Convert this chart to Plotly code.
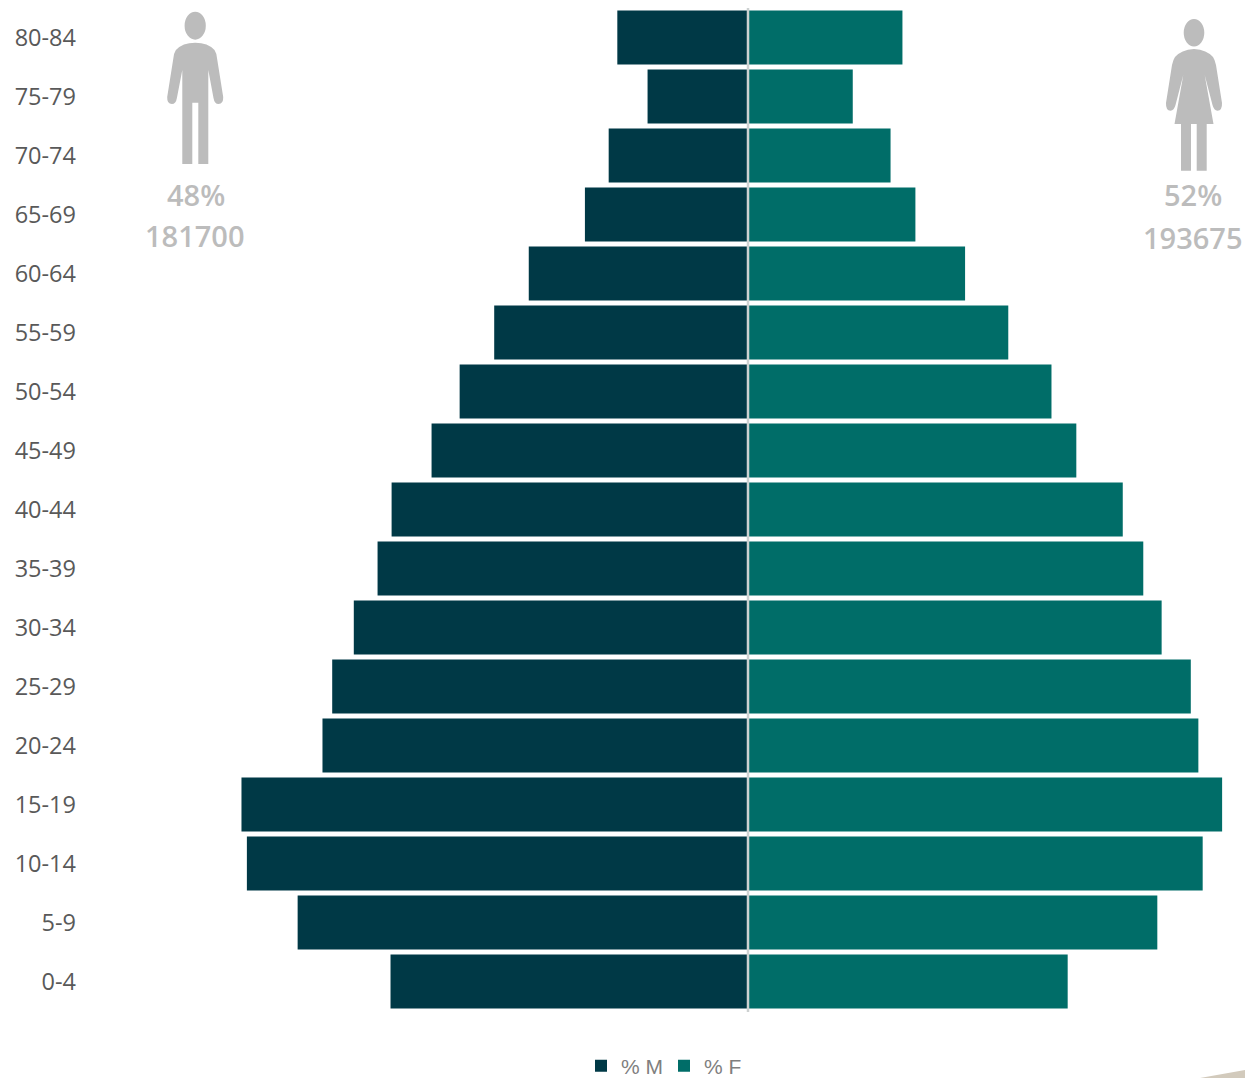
import plotly.graph_objects as go

ages = ["0-4","5-9","10-14","15-19","20-24","25-29","30-34","35-39","40-44","45-49",
        "50-54","55-59","60-64","65-69","70-74","75-79","80-84"]
male_pct = [3.31,4.17,4.64,4.69,3.94,3.85,3.65,3.43,3.30,2.93,2.67,2.35,2.03,1.51,1.29,0.93,1.21]
female_pct = [2.96,3.79,4.21,4.39,4.17,4.10,3.83,3.66,3.47,3.04,2.81,2.41,2.01,1.55,1.32,0.97,1.43]

MALE_COLOR = "#003946"
FEMALE_COLOR = "#006D68"
ICON = "#BCBCBC"
W, H = 1245, 1092
L, R, T, B = 77, 1236, 8, 1011
CENTER, SCALE = 748, 108.0

def px(x): return (x - L) / (R - L)
def py(y): return 1 - (y - T) / (B - T)
def path(cmds):
    out = []
    for c in cmds:
        if isinstance(c, str):
            out.append(c)
        else:
            out.append(f"{px(c[0]):.5f},{py(c[1]):.5f}")
    return " ".join(out)

fig = go.Figure()
fig.add_bar(y=ages, x=[-v for v in male_pct], name="% M", orientation="h",
            marker=dict(color=MALE_COLOR, line=dict(width=0)))
fig.add_bar(y=ages, x=female_pct, name="% F", orientation="h",
            marker=dict(color=FEMALE_COLOR, line=dict(width=0)))

shapes = []
def add_path(cmds, color=ICON):
    shapes.append(dict(type="path", xref="paper", yref="paper", path=path(cmds),
                       fillcolor=color, line=dict(width=0), layer="above"))
def add_ellipse(cx, cy, rx, ry):
    shapes.append(dict(type="circle", xref="paper", yref="paper",
                       x0=px(cx-rx), x1=px(cx+rx), y0=py(cy+ry), y1=py(cy-ry),
                       fillcolor=ICON, line=dict(width=0), layer="above"))

# man icon
add_ellipse(195.2, 25.7, 10.6, 14)
add_path(["M",(195.2,42.7),"Q",(208,42.7),(214.5,50),"Q",(216.5,53),(217,58),
          "L",(223.2,97),"Q",(223.5,104),(218.5,104),"Q",(214.5,104),(213.5,98),
          "L",(208.3,70),"L",(208.3,164),"L",(198.3,164),"L",(198.3,102.7),"L",(192.3,102.7),
          "L",(192.3,164),"L",(182.3,164),"L",(182.3,70),"L",(176.9,98),
          "Q",(175.9,104),(171.9,104),"Q",(166.9,104),(167.2,97),"L",(173.4,58),
          "Q",(173.9,53),(175.9,50),"Q",(182.4,42.7),(195.2,42.7),"Z"])
# woman icon
add_ellipse(1194, 32.7, 10.3, 13.7)
add_path(["M",(1194,49),"Q",(1207,50),(1213,57),"Q",(1215,60),(1216,65),
          "L",(1222,103),"Q",(1222.3,110.7),(1217.5,110.7),"Q",(1214,110.7),(1212.5,105),
          "L",(1204.7,75),"L",(1213.5,124),"L",(1206.7,124),"L",(1206.7,170.7),"L",(1196.7,170.7),
          "L",(1196.7,124),"L",(1191,124),"L",(1191,170.7),"L",(1181,170.7),"L",(1181,124),
          "L",(1174.5,124),"L",(1183.3,75),"L",(1175.5,105),"Q",(1174,110.7),(1170.5,110.7),
          "Q",(1165.7,110.7),(1166,103),"L",(1172,65),"Q",(1173,60),(1175,57),"Q",(1181,50),(1194,49),"Z"])
# corner wedge in the bottom-right of the image
add_path(["M",(1200,1078),"L",(1245,1070),"L",(1245,1078),"Z"], "#D2CABC")

# centre line
shapes.append(dict(type="line", xref="x", yref="paper", x0=0, x1=0, y0=py(1012), y1=py(8),
                   line=dict(color="#CDD1D1", width=2.5), layer="above"))

def note(text, x, y):
    return dict(text=text, x=px(x), y=py(y), xref="paper", yref="paper", showarrow=False,
                xanchor="center", yanchor="middle",
                font=dict(family="Open Sans", size=29, color=ICON, weight=600))

fig.update_layout(
    width=W, height=H, paper_bgcolor="white", plot_bgcolor="white",
    margin=dict(l=L, r=W-R, t=T, b=H-B, pad=0, autoexpand=False),
    barmode="overlay", bargap=0.085, shapes=shapes,
    annotations=[note("48%",195.5,194.5), note("181700",195,235),
                 note("52%",1193,194.5), note("193675",1193,237)],
    xaxis=dict(range=[(L-CENTER)/SCALE, (R-CENTER)/SCALE], visible=False,
               showgrid=False, zeroline=False, fixedrange=True),
    yaxis=dict(type="category", categoryorder="array", categoryarray=ages,
               range=[-0.5,16.5], showgrid=False, zeroline=False, showline=False,
               ticks="", tickfont=dict(family="Open Sans", size=23.5, color="#595959")),
    legend=dict(orientation="h", x=px(581), y=py(1066), xanchor="left", yanchor="middle",
                xref="paper", yref="paper", traceorder="normal",
                entrywidth=38, entrywidthmode="pixels",
                font=dict(family="Liberation Sans", size=21, color="#7F7F7F"),
                bgcolor="rgba(0,0,0,0)"),
    font=dict(family="Open Sans"),
)
fig.write_html("out.html",
               post_script="document.body.style.margin='0';document.documentElement.style.overflow='hidden';document.body.style.overflow='hidden';",
               config={"displayModeBar": False})
